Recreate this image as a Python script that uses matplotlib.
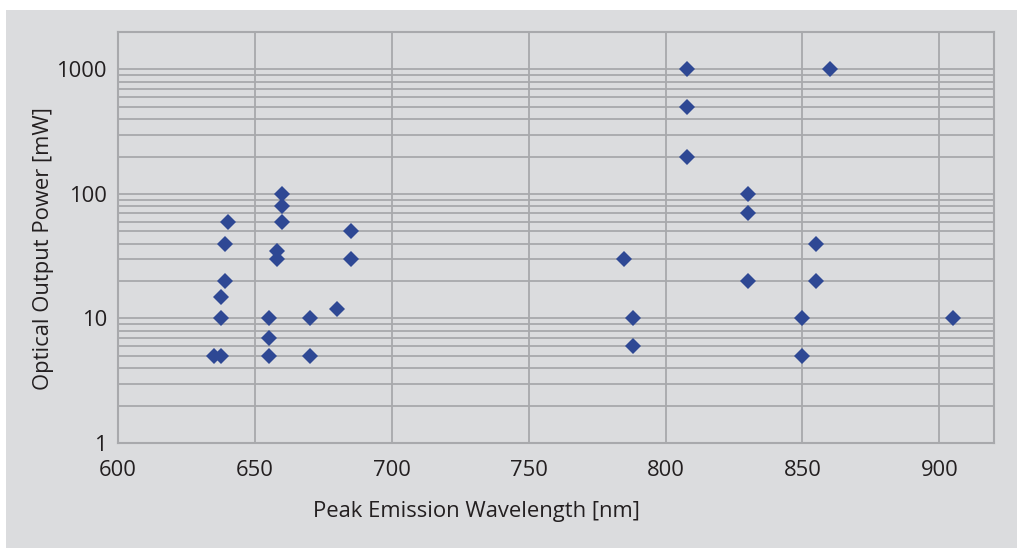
import matplotlib
matplotlib.use('Agg')
import matplotlib.pyplot as plt
from matplotlib.patches import Rectangle
from matplotlib.ticker import LogLocator, FixedLocator, NullFormatter

plt.rcParams['font.family'] = ['Open Sans', 'DejaVu Sans']

# wavelength [nm] and output power [mW] of each laser diode
wavelength = [635, 637.5, 637.5, 637.5, 639, 639, 640,
              655, 655, 655, 658, 658, 660, 660, 660,
              670, 670, 680, 685, 685,
              785, 788, 788,
              808, 808, 808, 830, 830, 830,
              850, 850, 855, 855, 860, 905]
power = [5, 5, 10, 15, 20, 40, 60,
         10, 7, 5, 30, 35, 60, 80, 100,
         10, 5, 12, 50, 30,
         30, 10, 6,
         1000, 500, 200, 100, 70, 20,
         10, 5, 40, 20, 1000, 10]

x_ticks = [600, 650, 700, 750, 800, 850, 900]
y_ticks = [1, 10, 100, 1000]

bg = '#dbdcde'
grid_c = '#a8a9ac'
marker_c = '#2e4894'
text_c = '#231f20'

W, H = 1017, 548
fig = plt.figure(figsize=(W / 100, H / 100), dpi=100)
fig.patch.set_facecolor('white')
fig.patches.append(Rectangle((6 / W, 0), 1 - 6 / W, 1 - 10 / H,
                             transform=fig.transFigure, facecolor=bg,
                             edgecolor='none', zorder=-10))

ax = fig.add_axes([118 / W, (H - 443) / H, (994 - 118) / W, (443 - 32) / H])
ax.set_facecolor(bg)

ax.plot(wavelength, power, linestyle='none', marker='D', markersize=8.3,
        color=marker_c, markeredgewidth=0, zorder=3)

ax.set_yscale('log')
ax.set_xlim(600, 920)
ax.set_ylim(1, 2000)

ax.xaxis.set_major_locator(FixedLocator(x_ticks))
ax.yaxis.set_major_locator(FixedLocator(y_ticks))
ax.yaxis.set_minor_locator(LogLocator(base=10, subs=range(2, 10)))
ax.yaxis.set_minor_formatter(NullFormatter())
ax.set_xticklabels([str(v) for v in x_ticks])
ax.set_yticklabels([str(v) for v in y_ticks])

ax.grid(True, which='major', axis='both', color=grid_c, linewidth=1.3)
ax.grid(True, which='minor', axis='y', color=grid_c, linewidth=1.3)
ax.set_axisbelow(True)

for s in ax.spines.values():
    s.set_color(grid_c)
    s.set_linewidth(1.5)

ax.tick_params(axis='both', which='both', length=0, labelsize=15.8,
               colors=text_c)
ax.tick_params(axis='x', pad=12)
ax.tick_params(axis='y', pad=8)

# axis titles placed where they sit in the original
fig.text(476 / W, 1 - 512 / H, 'Peak Emission Wavelength [nm]',
         fontsize=15.8, color=text_c, ha='center', va='center')
fig.text(44 / W, 1 - 249 / H, 'Optical Output Power [mW]',
         fontsize=15.8, color=text_c, ha='center', va='center', rotation=90)

fig.savefig('out.png', dpi=100, facecolor=fig.get_facecolor())
